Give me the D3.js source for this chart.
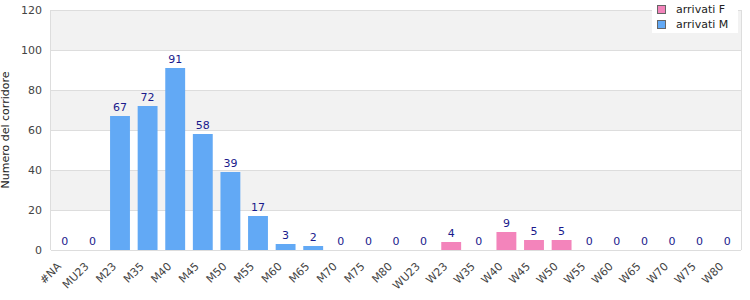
<!DOCTYPE html>
<html>
<head>
<meta charset="utf-8">
<script src="https://cdn.jsdelivr.net/npm/d3@7"></script>
<style>
body { margin: 0; background: #fff; }
text { font-family: "DejaVu Sans", sans-serif; }
</style>
</head>
<body>
<script>
// dati
var categorie = ["#NA","MU23","M23","M35","M40","M45","M50","M55","M60","M65","M70","M75","M80",
  "WU23","W23","W35","W40","W45","W50","W55","W60","W65","W70","W75","W80"];
var valori = [0,0,67,72,91,58,39,17,3,2,0,0,0,0,4,0,9,5,5,0,0,0,0,0,0];
var sesso = ["M","M","M","M","M","M","M","M","M","M","M","M","M",
  "F","F","F","F","F","F","F","F","F","F","F","F"];
var yTicks = [0,20,40,60,80,100,120];
var legenda = [{k: "F", label: "arrivati F"}, {k: "M", label: "arrivati M"}];

var w = 750, h = 300;
var margSx = 51, margDx = 741, margSu = 10, margGiu = 250;

var colore = {M: "#62a9f5", F: "#f384bb"};

var svg = d3.select("body").append("svg")
  .attr("width", w)
  .attr("height", h);

var x = d3.scaleBand()
  .domain(categorie)
  .range([margSx, margDx])
  .paddingInner(0.28)
  .paddingOuter(0.14);

var y = d3.scaleLinear()
  .domain([0, 120])
  .range([margGiu, margSu]);

// bande di sfondo
var bande = d3.range(0, yTicks.length - 1);
svg.selectAll(".banda")
  .data(bande)
  .enter()
  .append("rect")
  .attr("x", margSx)
  .attr("width", margDx - margSx)
  .attr("y", function(i) { return y(yTicks[i+1]); })
  .attr("height", function(i) { return y(yTicks[i]) - y(yTicks[i+1]); })
  .style("fill", function(i) { return i % 2 == 1 ? "#f2f2f2" : "#ffffff"; });

// griglia
svg.selectAll(".griglia")
  .data(yTicks)
  .enter()
  .append("line")
  .attr("x1", margSx)
  .attr("x2", margDx)
  .attr("y1", function(d) { return y(d) + 0.5; })
  .attr("y2", function(d) { return y(d) + 0.5; })
  .style("stroke", "#dddddd");

svg.append("line")
  .attr("x1", margSx - 0.5).attr("x2", margSx - 0.5)
  .attr("y1", margSu).attr("y2", margGiu)
  .style("stroke", "#dddddd");
svg.append("line")
  .attr("x1", margDx + 0.5).attr("x2", margDx + 0.5)
  .attr("y1", margSu).attr("y2", margGiu)
  .style("stroke", "#dddddd");

// asse y
var yAxis = d3.axisLeft(y).tickValues(yTicks).tickSize(0).tickPadding(9);
var gy = svg.append("g")
  .attr("transform", "translate(" + margSx + ",0)")
  .call(yAxis);
gy.select(".domain").remove();
gy.selectAll("text")
  .style("font-size", "11px")
  .style("fill", "#444");

svg.append("text")
  .text("Numero del corridore")
  .attr("transform", "translate(9," + ((margSu + margGiu) / 2) + ") rotate(-90)")
  .attr("text-anchor", "middle")
  .style("font-size", "11px")
  .style("fill", "#222");

// asse x
var xAxis = d3.axisBottom(x).tickSize(0).tickPadding(0);
var gx = svg.append("g")
  .attr("transform", "translate(0," + margGiu + ")")
  .call(xAxis);
gx.select(".domain").remove();
gx.selectAll("text")
  .attr("text-anchor", "end")
  .attr("dy", "0")
  .attr("y", 0)
  .attr("transform", "translate(-3,17) rotate(-45)")
  .style("font-size", "11px")
  .style("fill", "#444");

// barre
svg.selectAll(".barra")
  .data(valori)
  .enter()
  .append("rect")
  .attr("x", function(d, i) { return x(categorie[i]); })
  .attr("width", x.bandwidth())
  .attr("y", function(d) { return y(d); })
  .attr("height", function(d) { return margGiu - y(d); })
  .style("fill", function(d, i) { return colore[sesso[i]]; });

// etichette valori
svg.selectAll(".etichetta")
  .data(valori)
  .enter()
  .append("text")
  .text(function(d) { return d; })
  .attr("x", function(d, i) { return x(categorie[i]) + x.bandwidth() / 2; })
  .attr("y", function(d) { return y(d) - 5; })
  .attr("text-anchor", "middle")
  .style("font-size", "11px")
  .style("fill", "#1a1a8c");

// legenda
var leg = svg.append("g")
  .attr("transform", "translate(652,0)");
leg.append("rect")
  .attr("width", 86)
  .attr("height", 33)
  .style("fill", "#fff");
leg.selectAll(".quadro")
  .data(legenda)
  .enter()
  .append("rect")
  .attr("x", 5.5)
  .attr("y", function(d, i) { return 5.5 + i * 15; })
  .attr("width", 8)
  .attr("height", 8)
  .style("fill", function(d) { return colore[d.k]; })
  .style("stroke", "#666");
leg.selectAll(".voce")
  .data(legenda)
  .enter()
  .append("text")
  .text(function(d) { return d.label; })
  .attr("x", 24)
  .attr("y", function(d, i) { return 13 + i * 15; })
  .style("font-size", "11px")
  .style("fill", "#222");
</script>
</body>
</html>
